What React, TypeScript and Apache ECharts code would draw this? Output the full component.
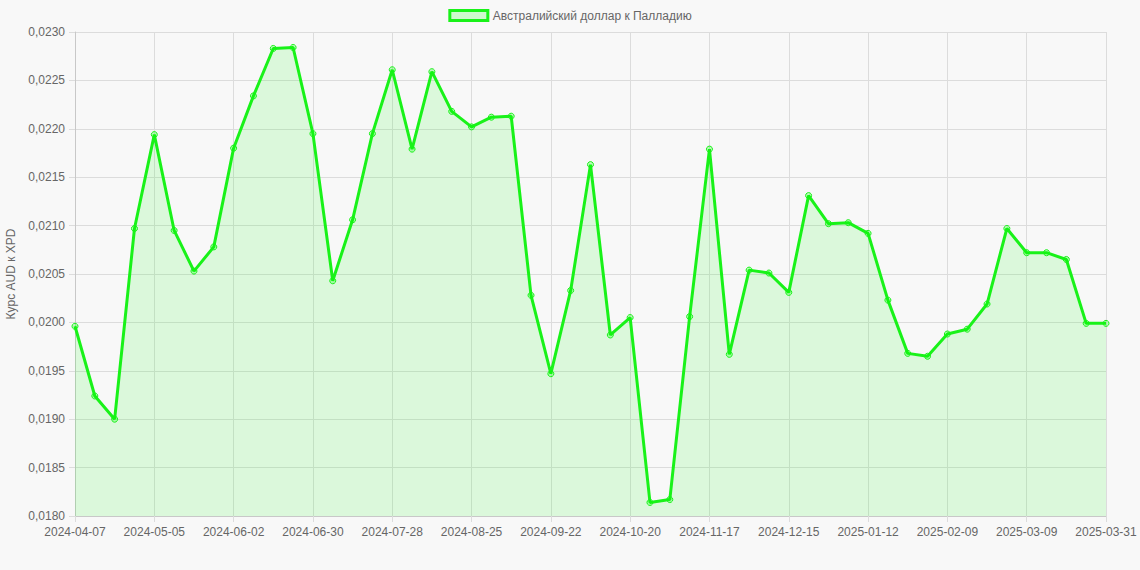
import { useEffect, useRef } from "react";
import * as echarts from "echarts";

const dates = [
  "2024-04-07", "2024-04-14", "2024-04-21", "2024-04-28",
  "2024-05-05", "2024-05-12", "2024-05-19", "2024-05-26",
  "2024-06-02", "2024-06-09", "2024-06-16", "2024-06-23",
  "2024-06-30", "2024-07-07", "2024-07-14", "2024-07-21",
  "2024-07-28", "2024-08-04", "2024-08-11", "2024-08-18",
  "2024-08-25", "2024-09-01", "2024-09-08", "2024-09-15",
  "2024-09-22", "2024-09-29", "2024-10-06", "2024-10-13",
  "2024-10-20", "2024-10-27", "2024-11-03", "2024-11-10",
  "2024-11-17", "2024-11-24", "2024-12-01", "2024-12-08",
  "2024-12-15", "2024-12-22", "2024-12-29", "2025-01-05",
  "2025-01-12", "2025-01-19", "2025-01-26", "2025-02-02",
  "2025-02-09", "2025-02-16", "2025-02-23", "2025-03-02",
  "2025-03-09", "2025-03-16", "2025-03-23", "2025-03-30",
  "2025-03-31",
];

const audXpd = [
  0.01996, 0.01924, 0.019, 0.02097, 0.02194, 0.02095, 0.02053, 0.02078,
  0.0218, 0.02234, 0.02283, 0.02284, 0.02195, 0.02043, 0.02106, 0.02195,
  0.02261, 0.02179, 0.02259, 0.02218, 0.02202, 0.02212, 0.02213, 0.02028,
  0.01947, 0.02033, 0.02163, 0.01987, 0.02005, 0.01814, 0.01817, 0.02006,
  0.02179, 0.01967, 0.02054, 0.02051, 0.02031, 0.02131, 0.02102, 0.02103,
  0.02092, 0.02023, 0.01968, 0.01965, 0.01988, 0.01993, 0.02019, 0.02097,
  0.02072, 0.02072, 0.02065, 0.01999, 0.01999,
];

const seriesName = "Австралийский доллар к Палладию";
const yAxisTitle = "Курс AUD к XPD";

const lineColor = "#19f219";
const textColor = "#666";
const gridColor = "#dcdcdc";

export default function App() {
  const chartRef = useRef<HTMLDivElement>(null);

  useEffect(() => {
    if (!chartRef.current) return;
    const chart = echarts.init(chartRef.current, undefined, { renderer: "svg" });

    chart.setOption({
      animation: false,
      backgroundColor: "#f8f8f8",
      textStyle: { fontFamily: "Arial, Liberation Sans, sans-serif" },
      legend: {
        top: 4,
        left: "center",
        icon: "rect",
        itemWidth: 38,
        itemHeight: 10,
        itemGap: 6,
        textStyle: { color: textColor, fontSize: 12 },
        itemStyle: {
          color: "rgba(0,255,0,0.17)",
          borderColor: lineColor,
          borderWidth: 3,
        },
        data: [seriesName],
      },
      grid: {
        left: 75,
        right: 34,
        top: 32,
        bottom: 54,
        containLabel: false,
        outerBoundsMode: "none",
      },
      xAxis: {
        type: "category",
        data: dates,
        boundaryGap: false,
        axisLine: { show: true, lineStyle: { color: "#c8c8c8" } },
        axisTick: {
          show: true,
          interval: 3,
          length: 6,
          lineStyle: { color: gridColor },
        },
        axisLabel: {
          interval: 3,
          color: textColor,
          fontSize: 12,
          margin: 10,
        },
        splitLine: {
          show: true,
          interval: 3,
          lineStyle: { color: gridColor },
        },
      },
      yAxis: {
        type: "value",
        min: 0.018,
        max: 0.023,
        interval: 0.0005,
        name: yAxisTitle,
        nameLocation: "middle",
        nameGap: 58,
        nameTextStyle: { color: textColor, fontSize: 12 },
        axisLine: { show: true, lineStyle: { color: "#c8c8c8" } },
        axisTick: { show: true, length: 6, lineStyle: { color: gridColor } },
        axisLabel: {
          color: textColor,
          fontSize: 12,
          margin: 10,
          formatter: (v: number) => v.toFixed(4).replace(".", ","),
        },
        splitLine: { show: true, lineStyle: { color: gridColor } },
      },
      series: [
        {
          name: seriesName,
          type: "line",
          data: audXpd,
          symbol: "circle",
          symbolSize: 6,
          showAllSymbol: true,
          lineStyle: { color: lineColor, width: 3 },
          itemStyle: {
            color: "rgba(0,255,0,0.25)",
            borderColor: lineColor,
            borderWidth: 1,
          },
          areaStyle: { color: "rgba(0,255,0,0.16)" },
        },
      ],
    });

    return () => {
      chart.dispose();
    };
  }, []);

  return (
    <div
      ref={chartRef}
      style={{ position: "absolute", left: 0, top: 0, width: 1140, height: 570 }}
    />
  );
}
